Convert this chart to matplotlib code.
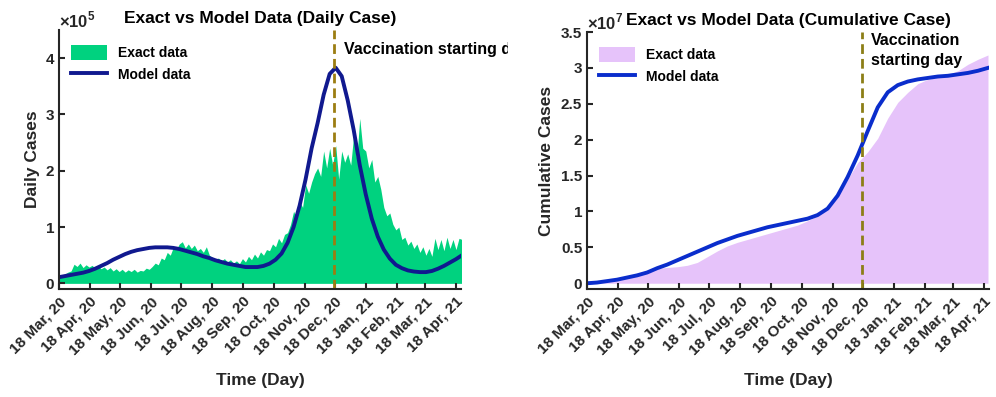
import numpy as np
import matplotlib
matplotlib.use("Agg")
import matplotlib.pyplot as plt
import matplotlib.dates as mdates
from matplotlib.transforms import Bbox

plt.rcParams['font.family'] = ['Liberation Sans', 'DejaVu Sans']
plt.rcParams['font.weight'] = 'bold'
plt.rcParams['axes.titleweight'] = 'bold'
plt.rcParams['axes.labelweight'] = 'bold'
plt.rcParams['mathtext.fontset'] = 'custom'
plt.rcParams['mathtext.rm'] = 'Liberation Sans'

start = np.datetime64('2020-03-18')
vacc_day = 274

# daily exact cases (every 3 days from 18 Mar 2020), x1e5
daily_exact = [0.10, 0.14, 0.17, 0.20, 0.22, 0.34, 0.30, 0.36, 0.28, 0.33,
               0.29, 0.32, 0.27, 0.31, 0.26, 0.29, 0.24, 0.28, 0.22, 0.26,
               0.21, 0.25, 0.20, 0.24, 0.21, 0.25, 0.20, 0.23, 0.22, 0.27,
               0.25, 0.30, 0.36, 0.33, 0.45, 0.42, 0.55, 0.50, 0.64, 0.60,
               0.70, 0.74, 0.63, 0.70, 0.62, 0.68, 0.58, 0.62, 0.55, 0.65,
               0.50, 0.46, 0.42, 0.45, 0.40, 0.44, 0.38, 0.42, 0.36, 0.40,
               0.35, 0.44, 0.38, 0.48, 0.42, 0.52, 0.45, 0.56, 0.50, 0.60,
               0.58, 0.70, 0.65, 0.80, 0.72, 0.87, 0.90, 1.05, 1.28, 1.15,
               1.45, 1.35, 1.75, 1.60, 1.80, 1.95, 2.05, 1.90, 2.35, 2.05,
               2.40, 2.10, 2.45, 1.85, 2.35, 2.15, 2.30, 2.10, 2.64, 2.20,
               2.93, 2.40, 2.35, 2.05, 2.20, 1.80, 1.90, 1.67, 1.35, 1.20,
               1.25, 1.05, 0.95, 1.00, 0.78, 0.82, 0.68, 0.75, 0.62, 0.70,
               0.55, 0.65, 0.50, 0.62, 0.48, 0.80, 0.60, 0.78, 0.58, 0.82,
               0.62, 0.78, 0.60, 0.80, 0.78]
# daily model (every 6 days), x1e5
daily_model = [0.11, 0.13, 0.15, 0.17, 0.19, 0.22, 0.26, 0.31, 0.36, 0.42,
               0.47, 0.52, 0.56, 0.59, 0.61, 0.63, 0.64, 0.64, 0.64, 0.63,
               0.61, 0.58, 0.55, 0.52, 0.48, 0.45, 0.41, 0.38, 0.35, 0.33,
               0.31, 0.29, 0.29, 0.29, 0.31, 0.35, 0.42, 0.53, 0.72, 1.00,
               1.38, 1.85, 2.40, 2.85, 3.35, 3.72, 3.83, 3.68, 3.25, 2.72,
               2.10, 1.58, 1.15, 0.83, 0.60, 0.44, 0.33, 0.27, 0.23, 0.21,
               0.20, 0.20, 0.22, 0.26, 0.31, 0.37, 0.43, 0.50]
# cumulative (every 10 days), x1e7
cum_exact = [0.00, 0.01, 0.03, 0.06, 0.10, 0.14, 0.18, 0.21, 0.22, 0.23,
             0.25, 0.29, 0.37, 0.45, 0.52, 0.57, 0.61, 0.65, 0.69, 0.73,
             0.77, 0.81, 0.87, 0.94, 1.04, 1.22, 1.45, 1.68, 1.83, 2.02,
             2.30, 2.52, 2.66, 2.78, 2.84, 2.87, 2.91, 2.96, 3.05, 3.12, 3.18]
cum_model = [0.00, 0.01, 0.03, 0.05, 0.08, 0.11, 0.15, 0.21, 0.26, 0.32,
             0.38, 0.44, 0.50, 0.56, 0.61, 0.66, 0.70, 0.74, 0.78, 0.81,
             0.84, 0.87, 0.90, 0.95, 1.04, 1.22, 1.48, 1.78, 2.12, 2.45,
             2.66, 2.76, 2.81, 2.84, 2.86, 2.88, 2.89, 2.91, 2.93, 2.96, 3.00]

d_exact = start + np.arange(len(daily_exact)) * 3
d_model = start + np.arange(len(daily_model)) * 6
c_dates = start + np.arange(len(cum_exact)) * 10
vacc = start + vacc_day
xend = start + 401

txt = '#262626'
fig = plt.figure(figsize=(9.96, 3.97), dpi=100)
ax1 = fig.add_axes([59/996, 108/397, 402/996, 259/397])
ax2 = fig.add_axes([587/996, 108/397, 402/996, 257/397])

ax1.fill_between(d_exact, 0, np.array(daily_exact) * 1e5, color='#00d27f', lw=0, label='Exact data')
ax1.plot(d_model, np.array(daily_model) * 1e5, color='#10198f', lw=2.8, label='Model data')
ax1.axvline(vacc, color='#9c7d12', lw=2, dashes=(3.5, 1.8))
ax1.set_ylim(-0.1e5, 4.5e5)
ax1.set_yticks([0, 1e5, 2e5, 3e5, 4e5])
ax1.set_yticklabels(['0', '1', '2', '3', '4'])
ax1.set_ylabel('Daily Cases', fontsize=12.5, color=txt, labelpad=4)
ax1.set_title('Exact vs Model Data (Daily Case)', fontsize=12.5, pad=5)
ax1.text(0.0, 1.0, r'$\times10^{5}$', transform=ax1.transAxes, fontsize=12, color=txt, ha='left', va='bottom')
t = ax1.text(vacc + 10, 4.15e5, 'Vaccination starting day', fontsize=11.5, va='center', clip_on=True)
t.set_clip_box(Bbox.from_extents(0, 0, 508, 397))

ax2.fill_between(c_dates, 0, np.array(cum_exact) * 1e7, color='#e6c3fa', lw=0, label='Exact data')
ax2.plot(c_dates, np.array(cum_model) * 1e7, color='#0a2dcc', lw=2.8, label='Model data')
ax2.axvline(vacc, color='#8c7e16', lw=2, dashes=(3.5, 1.8))
ax2.set_ylim(-0.08e7, 3.5e7)
yt = np.arange(0, 3.6, 0.5)
ax2.set_yticks(yt * 1e7)
ax2.set_yticklabels(['%g' % v for v in yt])
ax2.set_ylabel('Cumulative Cases', fontsize=12.5, color=txt, labelpad=5)
ax2.set_title('Exact vs Model Data (Cumulative Case)', fontsize=12.5, pad=5)
ax2.text(0.0, 1.0, r'$\times10^{7}$', transform=ax2.transAxes, fontsize=12, color=txt, ha='left', va='bottom')
ax2.text(vacc + 9, 3.24e7, 'Vaccination\nstarting day', fontsize=11.5, va='center', linespacing=1.45)

for ax in (ax1, ax2):
    ax.set_xlim(start, xend)
    ax.xaxis.set_major_locator(mdates.MonthLocator(bymonthday=18))
    ax.xaxis.set_major_formatter(mdates.DateFormatter('%d %b, %y'))
    for s in ('top', 'right'):
        ax.spines[s].set_visible(False)
    for s in ('left', 'bottom'):
        ax.spines[s].set_linewidth(1.5)
        ax.spines[s].set_color(txt)
    ax.tick_params(direction='in', length=4, width=1.5, colors=txt, labelsize=11)
    ax.tick_params(axis='x', pad=4)
    for lb in ax.get_xticklabels():
        lb.set_rotation(45)
        lb.set_ha('right')
        lb.set_va('top')
        lb.set_rotation_mode('anchor')
    ax.set_xlabel('Time (Day)', fontsize=12.5, color=txt, labelpad=11)
    ax.legend(loc='upper left', frameon=False, fontsize=10, handlelength=2.6,
              handleheight=1.3, bbox_to_anchor=(0.005, 0.98), borderaxespad=0.3)

fig.savefig('out.png', dpi=100)
